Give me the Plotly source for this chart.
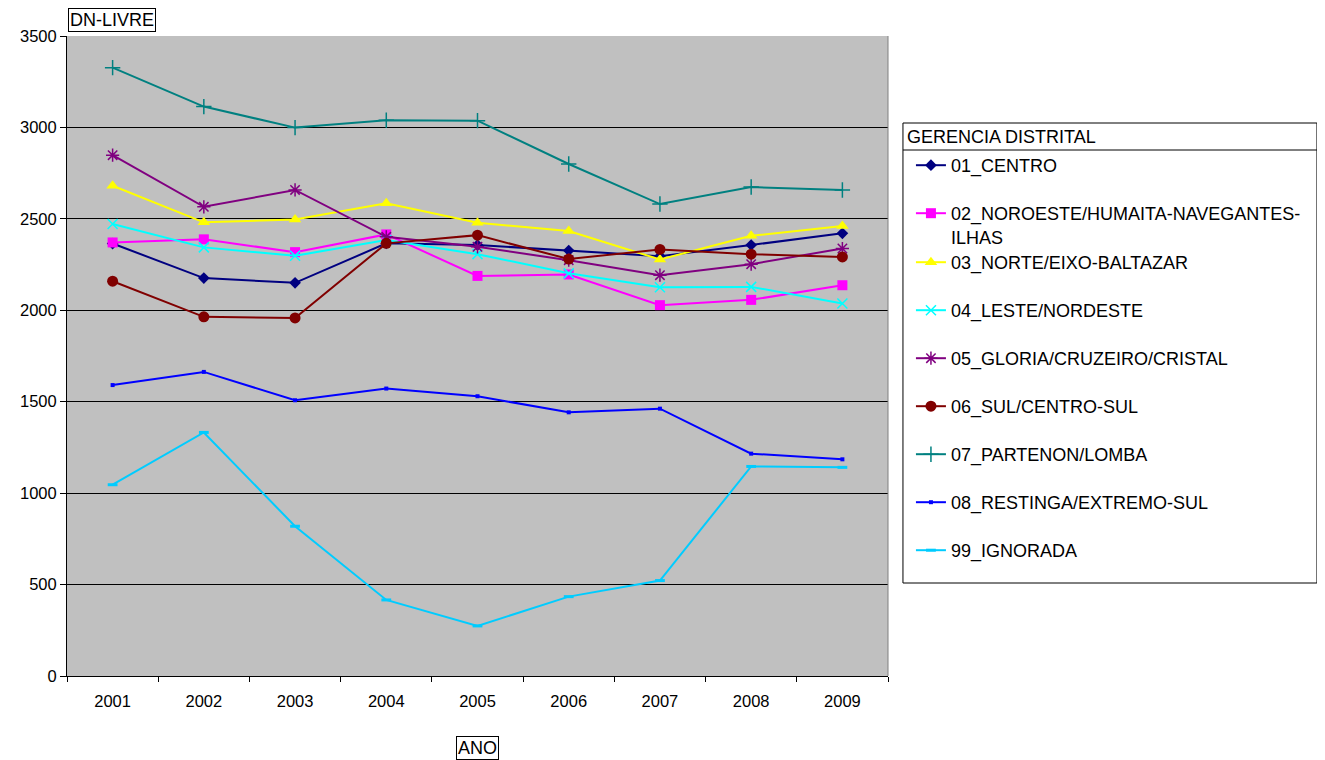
import plotly.graph_objects as go

years = ["2001", "2002", "2003", "2004", "2005", "2006", "2007", "2008", "2009"]

s01_centro = [2365, 2176, 2150, 2366, 2357, 2327, 2296, 2357, 2421]
s02_noroeste = [2371, 2388, 2318, 2415, 2188, 2196, 2028, 2057, 2137]
s03_norte = [2681, 2481, 2497, 2585, 2479, 2433, 2278, 2407, 2461]
s04_leste = [2472, 2344, 2298, 2384, 2307, 2202, 2126, 2128, 2037]
s05_gloria = [2848, 2566, 2658, 2402, 2347, 2274, 2192, 2252, 2338]
s06_sul = [2159, 1964, 1958, 2366, 2411, 2280, 2333, 2307, 2292]
s07_partenon = [3327, 3114, 2999, 3039, 3037, 2800, 2581, 2674, 2658]
s08_restinga = [1591, 1663, 1508, 1572, 1530, 1442, 1462, 1216, 1185]
s99_ignorada = [1046, 1332, 819, 416, 274, 434, 522, 1146, 1141]

names = [
    "01_CENTRO",
    "02_NOROESTE/HUMAITA-NAVEGANTES-<br>ILHAS",
    "03_NORTE/EIXO-BALTAZAR",
    "04_LESTE/NORDESTE",
    "05_GLORIA/CRUZEIRO/CRISTAL",
    "06_SUL/CENTRO-SUL",
    "07_PARTENON/LOMBA",
    "08_RESTINGA/EXTREMO-SUL",
    "99_IGNORADA",
]
series = [s01_centro, s02_noroeste, s03_norte, s04_leste, s05_gloria,
          s06_sul, s07_partenon, s08_restinga, s99_ignorada]
colors = ["#000080", "#FF00FF", "#FFFF00", "#00FFFF", "#800080",
          "#800000", "#008080", "#0000FF", "#00CCFF"]
symbols = ["diamond", "square", "triangle-up", "x-thin", "asterisk",
           "circle", "cross-thin", "square", "line-ew"]
sizes = [9, 10, 11, 10, 11, 11, 11, 4, 7]

FONT = "Liberation Sans, Arial, sans-serif"

fig = go.Figure()
for i, (nm, ys, c, sym, sz) in enumerate(zip(names, series, colors, symbols, sizes)):
    marker = dict(symbol=sym, size=sz, color=c)
    if sym in ("x-thin", "asterisk", "cross-thin"):
        marker["line"] = dict(color=c, width=1.5)
    elif sym == "line-ew":
        marker["line"] = dict(color=c, width=3)
    else:
        marker["line"] = dict(color=c, width=0)
    fig.add_trace(go.Scatter(
        x=years, y=ys, mode="lines+markers", name=nm,
        legendgroup=f"g{i}",
        legend="legend" if i < 2 else "legend2",
        line=dict(color=c, width=2), marker=marker,
    ))

# page offset of the plotly div inside the html body
OFF = 8
W, H = 1325, 760
# plot area in screen pixels
L, R, T, B = 65, 888, 36, 676
pw, ph = R - L, B - T


def px(x):
    return (x - L) / pw


def py(y):
    return (B - y) / ph


leg_common = dict(
    xanchor="left", yanchor="top",
    bgcolor="rgba(0,0,0,0)", borderwidth=0,
    traceorder="grouped", tracegroupgap=21.6,
    valign="top", itemwidth=30,
    font=dict(size=18),
)

fig.update_layout(
    width=W, height=H,
    margin=dict(l=L - OFF, r=W - (R - OFF), t=T - OFF, b=H - (B - OFF), pad=0),
    paper_bgcolor="white",
    plot_bgcolor="#C0C0C0",
    font=dict(family=FONT, size=18, color="black"),
    showlegend=True,
    legend=dict(x=px(911), y=py(147), **leg_common),
    legend2=dict(x=px(911), y=py(244), **leg_common),
    xaxis=dict(
        type="category", range=[-0.5, 8.5],
        showline=True, linecolor="black", linewidth=1,
        ticks="outside", tickson="boundaries", ticklen=5, tickcolor="black",
        ticklabelstandoff=10,
        showgrid=False, zeroline=False,
        tickfont=dict(size=16.5),
    ),
    yaxis=dict(
        range=[0, 3500], dtick=500, tick0=0,
        showline=True, linecolor="black", linewidth=1,
        ticks="outside", ticklen=6, tickcolor="black",
        showgrid=True, gridcolor="#000000", gridwidth=1,
        zeroline=False, tickfont=dict(size=16.5),
    ),
    shapes=[
        dict(type="line", xref="paper", yref="paper", x0=1, x1=1, y0=0, y1=1,
             line=dict(color="#808080", width=1)),
        dict(type="rect", xref="paper", yref="paper",
             x0=px(903), x1=px(1318), y0=py(583), y1=py(123),
             line=dict(color="black", width=1)),
        dict(type="line", xref="paper", yref="paper",
             x0=px(903), x1=px(1318), y0=py(150), y1=py(150),
             line=dict(color="black", width=1)),
    ],
    annotations=[
        dict(text="GERENCIA DISTRITAL", xref="paper", yref="paper",
             x=px(905), y=py(137), xanchor="left", yanchor="middle",
             showarrow=False, font=dict(size=18)),
        dict(text="DN-LIVRE", xref="paper", yref="paper",
             x=px(66), y=py(8), xanchor="left", yanchor="top",
             showarrow=False, bordercolor="black", borderwidth=1, borderpad=1,
             bgcolor="white", font=dict(size=18)),
        dict(text="ANO", xref="paper", yref="paper",
             x=px(476.5), y=py(736), xanchor="center", yanchor="top",
             showarrow=False, bordercolor="black", borderwidth=1, borderpad=1,
             bgcolor="white", font=dict(size=18)),
    ],
)

fig.write_html("out.html")
